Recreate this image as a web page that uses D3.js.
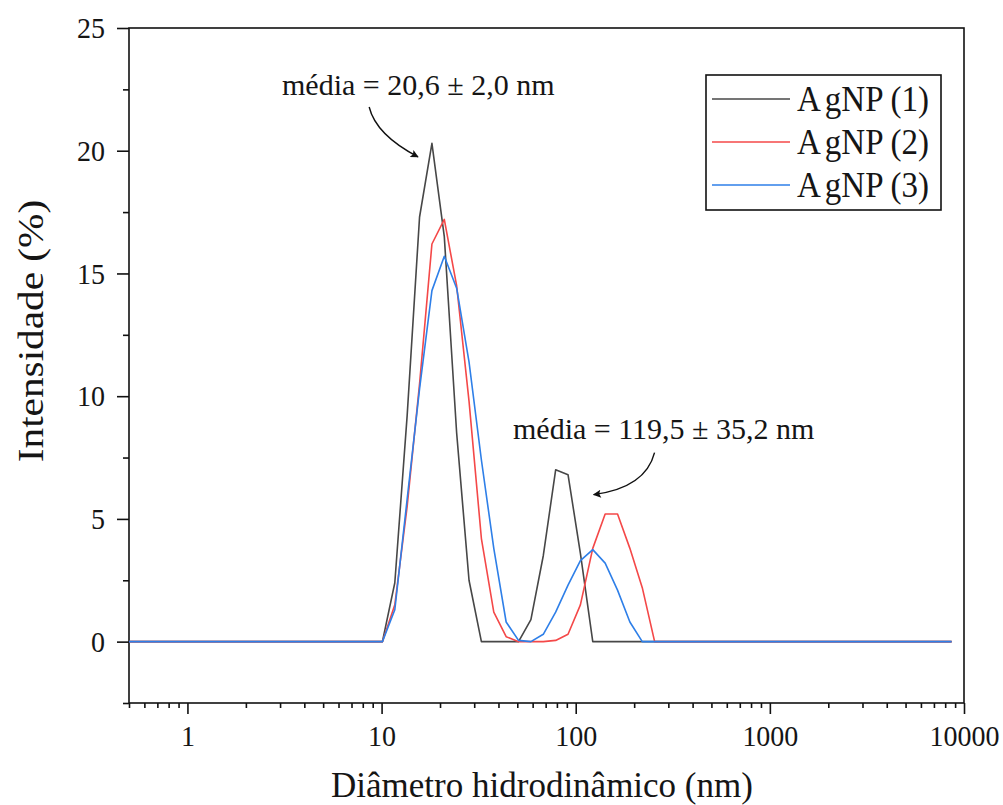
<!DOCTYPE html>
<html>
<head>
<meta charset="utf-8">
<script src="https://cdn.jsdelivr.net/npm/d3@7"></script>
<style>
  body { margin: 0; background: #fff; }
  text { font-family: "Liberation Serif", "Times New Roman", serif; fill: #151515; }
</style>
</head>
<body>
<script>
// hydrodynamic diameter bins (nm)
var sizes = [0.4, 0.4632, 0.5365, 0.6213, 0.7195, 0.8332, 0.9649, 1.117, 1.294, 1.499,
    1.736, 2.01, 2.328, 2.696, 3.122, 3.615, 4.187, 4.849, 5.615, 6.503, 7.531, 8.721,
    10.1, 11.7, 13.54, 15.69, 18.17, 21.04, 24.36, 28.21, 32.67, 37.84, 43.82, 50.75,
    58.77, 68.06, 78.82, 91.28, 105.7, 122.4, 141.8, 164.2, 190.1, 220.2, 255.0,
    295.3, 342, 396.1, 458.7, 531.2, 615.1, 712.4, 825, 955.4, 1106, 1281, 1484, 1718,
    1990, 2305, 2669, 3091, 3580, 4145, 4801, 5560, 6439, 7456, 8635];

// intensity (%) per bin
var agnp1 = [0, 0, 0, 0, 0, 0, 0, 0, 0, 0, 0, 0, 0, 0, 0, 0, 0, 0, 0, 0, 0, 0,
    0, 2.4, 9.2, 17.3, 20.3, 16.5, 8.5, 2.5, 0, 0, 0, 0, 0.9, 3.5, 7.0, 6.8, 3.6, 0, 0, 0, 0, 0, 0,
    0, 0, 0, 0, 0, 0, 0, 0, 0, 0, 0, 0, 0, 0, 0, 0, 0, 0, 0, 0, 0, 0, 0, 0];
var agnp2 = [0, 0, 0, 0, 0, 0, 0, 0, 0, 0, 0, 0, 0, 0, 0, 0, 0, 0, 0, 0, 0, 0,
    0, 1.5, 5.5, 10.5, 16.2, 17.2, 14.5, 9.8, 4.2, 1.2, 0.2, 0, 0, 0, 0.05, 0.3, 1.5, 3.8, 5.2, 5.2, 3.8, 2.2, 0,
    0, 0, 0, 0, 0, 0, 0, 0, 0, 0, 0, 0, 0, 0, 0, 0, 0, 0, 0, 0, 0, 0, 0, 0];
var agnp3 = [0, 0, 0, 0, 0, 0, 0, 0, 0, 0, 0, 0, 0, 0, 0, 0, 0, 0, 0, 0, 0, 0,
    0, 1.3, 5.8, 10.3, 14.3, 15.7, 14.4, 11.4, 7.4, 3.8, 0.8, 0.05, 0, 0.3, 1.2, 2.3, 3.3, 3.75, 3.2, 2.1, 0.8, 0, 0,
    0, 0, 0, 0, 0, 0, 0, 0, 0, 0, 0, 0, 0, 0, 0, 0, 0, 0, 0, 0, 0, 0, 0, 0];

var seriesNames = ["AgNP (1)", "AgNP (2)", "AgNP (3)"];
var seriesColors = ["#474747", "#f44848", "#2e7fe8"];

var xMajor = [1, 10, 100, 1000, 10000];
var yMajor = [0, 5, 10, 15, 20, 25];

var w = 1003;
var h = 805;
var pLeft = 129, pRight = 964, pTop = 28, pBottom = 703;

var xScale = d3.scaleLog()
    .domain([0.5, 10000])
    .range([pLeft, pRight]);

var yScale = d3.scaleLinear()
    .domain([-2.5, 25])
    .range([pBottom, pTop]);

var svg = d3.select("body")
    .append("svg")
    .attr("width", w)
    .attr("height", h);

svg.append("clipPath")
    .attr("id", "plot")
    .append("rect")
    .attr("x", pLeft)
    .attr("y", pTop)
    .attr("width", pRight - pLeft)
    .attr("height", pBottom - pTop);

// minor ticks
var xMinor = [];
[0.1, 1, 10, 100, 1000].forEach(function(d){
    for (var k = 2; k <= 9; k++) {
        var v = d * k;
        if (v >= 0.5 && v < 10000) xMinor.push(v);
    }
});
var yMinor = [-2.5, 2.5, 7.5, 12.5, 17.5, 22.5];

// frame
svg.append("rect")
    .attr("x", pLeft)
    .attr("y", pTop)
    .attr("width", pRight - pLeft)
    .attr("height", pBottom - pTop)
    .attr("fill", "none")
    .attr("stroke", "#111")
    .attr("stroke-width", 1.6);

function styleAxis(g){
    g.select(".domain").remove();
    g.selectAll("line").attr("stroke", "#111").attr("stroke-width", 1.6);
    g.selectAll("text")
        .style("font-family", "Liberation Serif")
        .style("font-size", "28px")
        .style("fill", "#151515")
        .attr("transform", "scale(1,1.08)");
}

svg.append("g")
    .attr("transform", "translate(0," + pBottom + ")")
    .call(d3.axisBottom(xScale).tickValues(xMinor).tickSize(5).tickFormat(""))
    .call(styleAxis);

svg.append("g")
    .attr("transform", "translate(0," + pBottom + ")")
    .call(d3.axisBottom(xScale).tickValues(xMajor).tickSize(11).tickPadding(9)
        .tickFormat(d3.format("d")))
    .call(styleAxis);

svg.append("g")
    .attr("transform", "translate(" + pLeft + ",0)")
    .call(d3.axisLeft(yScale).tickValues(yMinor).tickSize(6).tickFormat(""))
    .call(styleAxis);

svg.append("g")
    .attr("transform", "translate(" + pLeft + ",0)")
    .call(d3.axisLeft(yScale).tickValues(yMajor).tickSize(12).tickPadding(12))
    .call(styleAxis);

// curves
var line = d3.line()
    .x(function(d){ return xScale(d[0]); })
    .y(function(d){ return yScale(d[1]); });

[agnp1, agnp2, agnp3].forEach(function(vals, i){
    svg.append("path")
        .datum(sizes.map(function(s, j){ return [s, vals[j]]; }))
        .attr("clip-path", "url(#plot)")
        .attr("fill", "none")
        .attr("stroke", seriesColors[i])
        .attr("stroke-width", 1.6)
        .attr("stroke-linejoin", "round")
        .attr("d", line);
});

// annotations
svg.append("defs").append("marker")
    .attr("id", "head")
    .attr("viewBox", "0 0 10 10")
    .attr("refX", 9)
    .attr("refY", 5)
    .attr("markerWidth", 14)
    .attr("markerHeight", 8)
    .attr("markerUnits", "userSpaceOnUse")
    .attr("orient", "auto")
    .append("path")
    .attr("d", "M0,0 L10,5 L0,10 L2,5 Z")
    .attr("fill", "#111");

var arrow1 = [[8.63, 21.78], [9.37, 20.64], [15.4, 19.75]];
var arrow2 = [[254.7, 7.70], [229, 6.27], [123.7, 5.99]];

[arrow1, arrow2].forEach(function(a){
    svg.append("path")
        .attr("d", "M" + xScale(a[0][0]) + "," + yScale(a[0][1]) +
            " Q" + xScale(a[1][0]) + "," + yScale(a[1][1]) +
            " " + xScale(a[2][0]) + "," + yScale(a[2][1]))
        .attr("fill", "none")
        .attr("stroke", "#111")
        .attr("stroke-width", 1.4)
        .attr("marker-end", "url(#head)");
});

svg.append("text")
    .attr("x", 282)
    .attr("y", 95)
    .style("font-size", "30px")
    .text("média = 20,6 ± 2,0 nm");

svg.append("text")
    .attr("x", 513)
    .attr("y", 439)
    .style("font-size", "30px")
    .text("média = 119,5 ± 35,2 nm");

// legend
var legend = svg.append("g");
legend.append("rect")
    .attr("x", 706)
    .attr("y", 75)
    .attr("width", 235)
    .attr("height", 135)
    .attr("fill", "#fff")
    .attr("stroke", "#111")
    .attr("stroke-width", 1.6);

seriesNames.forEach(function(name, i){
    var ly = 99 + i * 43;
    legend.append("line")
        .attr("x1", 712)
        .attr("x2", 790)
        .attr("y1", ly)
        .attr("y2", ly)
        .attr("stroke", seriesColors[i])
        .attr("stroke-width", 1.6);
    var t = legend.append("text")
        .attr("transform", "translate(797," + (ly + 12) + ") scale(1,1.07)")
        .style("font-size", "33px");
    t.append("tspan").text(name.slice(0, 1));
    t.append("tspan").attr("dx", 4).text(name.slice(1));
});

// axis titles
svg.append("text")
    .attr("x", 542)
    .attr("y", 797)
    .attr("text-anchor", "middle")
    .style("font-size", "35px")
    .text("Diâmetro hidrodinâmico (nm)");

svg.append("text")
    .attr("transform", "translate(43,331) scale(1,1.18) rotate(-90)")
    .attr("text-anchor", "middle")
    .style("font-size", "35px")
    .text("Intensidade (%)");
</script>
</body>
</html>
